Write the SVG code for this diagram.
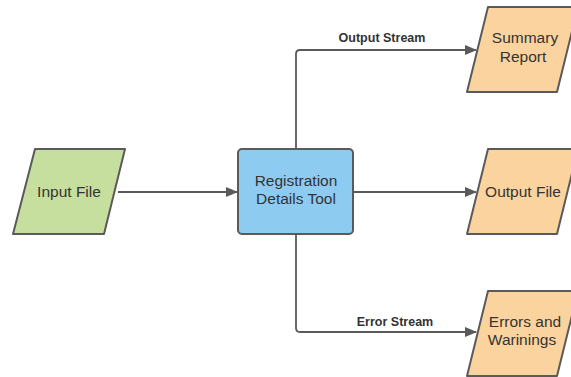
<svg xmlns="http://www.w3.org/2000/svg" width="571" height="377" viewBox="0 0 571 377">
<defs>
<marker id="ah" viewBox="0 0 12 10" refX="11" refY="5" markerWidth="12" markerHeight="10" markerUnits="userSpaceOnUse" orient="auto">
<path d="M0,0 L12,5 L0,10 z" fill="#5a5a5a"/>
</marker>
<style>
.shape{stroke:#5a5a5a;stroke-width:2;stroke-linejoin:round}
.in{fill:#c6df9f}
.tool{fill:#8ecbf1}
.out{fill:#fbd39f}
.t{font-family:"Liberation Sans",Arial,sans-serif;font-size:15.5px;fill:#333;text-anchor:middle}
.lbl{font-family:"Liberation Sans",Arial,sans-serif;font-size:12.5px;font-weight:bold;fill:#333;text-anchor:middle}
.c{fill:none;stroke:#5a5a5a;stroke-width:1.8}
</style>
</defs>
<rect width="571" height="377" fill="#ffffff"/>
<g id="connectors">
<path class="c" d="M118,192 H237" marker-end="url(#ah)"/>
<path class="c" d="M354,192 H476" marker-end="url(#ah)"/>
<path class="c" d="M296,149 V54 Q296,50 300,50 H476" marker-end="url(#ah)"/>
<path class="c" d="M296,234 V328 Q296,332 300,332 H476" marker-end="url(#ah)"/>
<text class="lbl" x="382" y="42">Output Stream</text>
<text class="lbl" x="395" y="326">Error Stream</text>
</g>
<g id="input-file">
<polygon class="shape in" points="35,149 125,149 104,234 13,234"/>
<text class="t" x="69" y="197">Input File</text>
</g>
<g id="registration-tool">
<rect class="shape tool" x="238" y="149" width="115" height="85" rx="4"/>
<text class="t" x="296" y="186">Registration</text>
<text class="t" x="296" y="204">Details Tool</text>
</g>
<g id="summary-report">
<polygon class="shape out" points="488,7 578,7 557,92 467,92"/>
<text class="t" x="525" y="43">Summary</text>
<text class="t" x="523" y="62">Report</text>
</g>
<g id="output-file">
<polygon class="shape out" points="488,149 578,149 557,234 467,234"/>
<text class="t" x="523" y="197">Output File</text>
</g>
<g id="errors-warnings">
<polygon class="shape out" points="488,291 578,291 557,376 467,376"/>
<text class="t" x="525" y="327">Errors and</text>
<text class="t" x="522" y="345">Warinings</text>
</g>
</svg>
